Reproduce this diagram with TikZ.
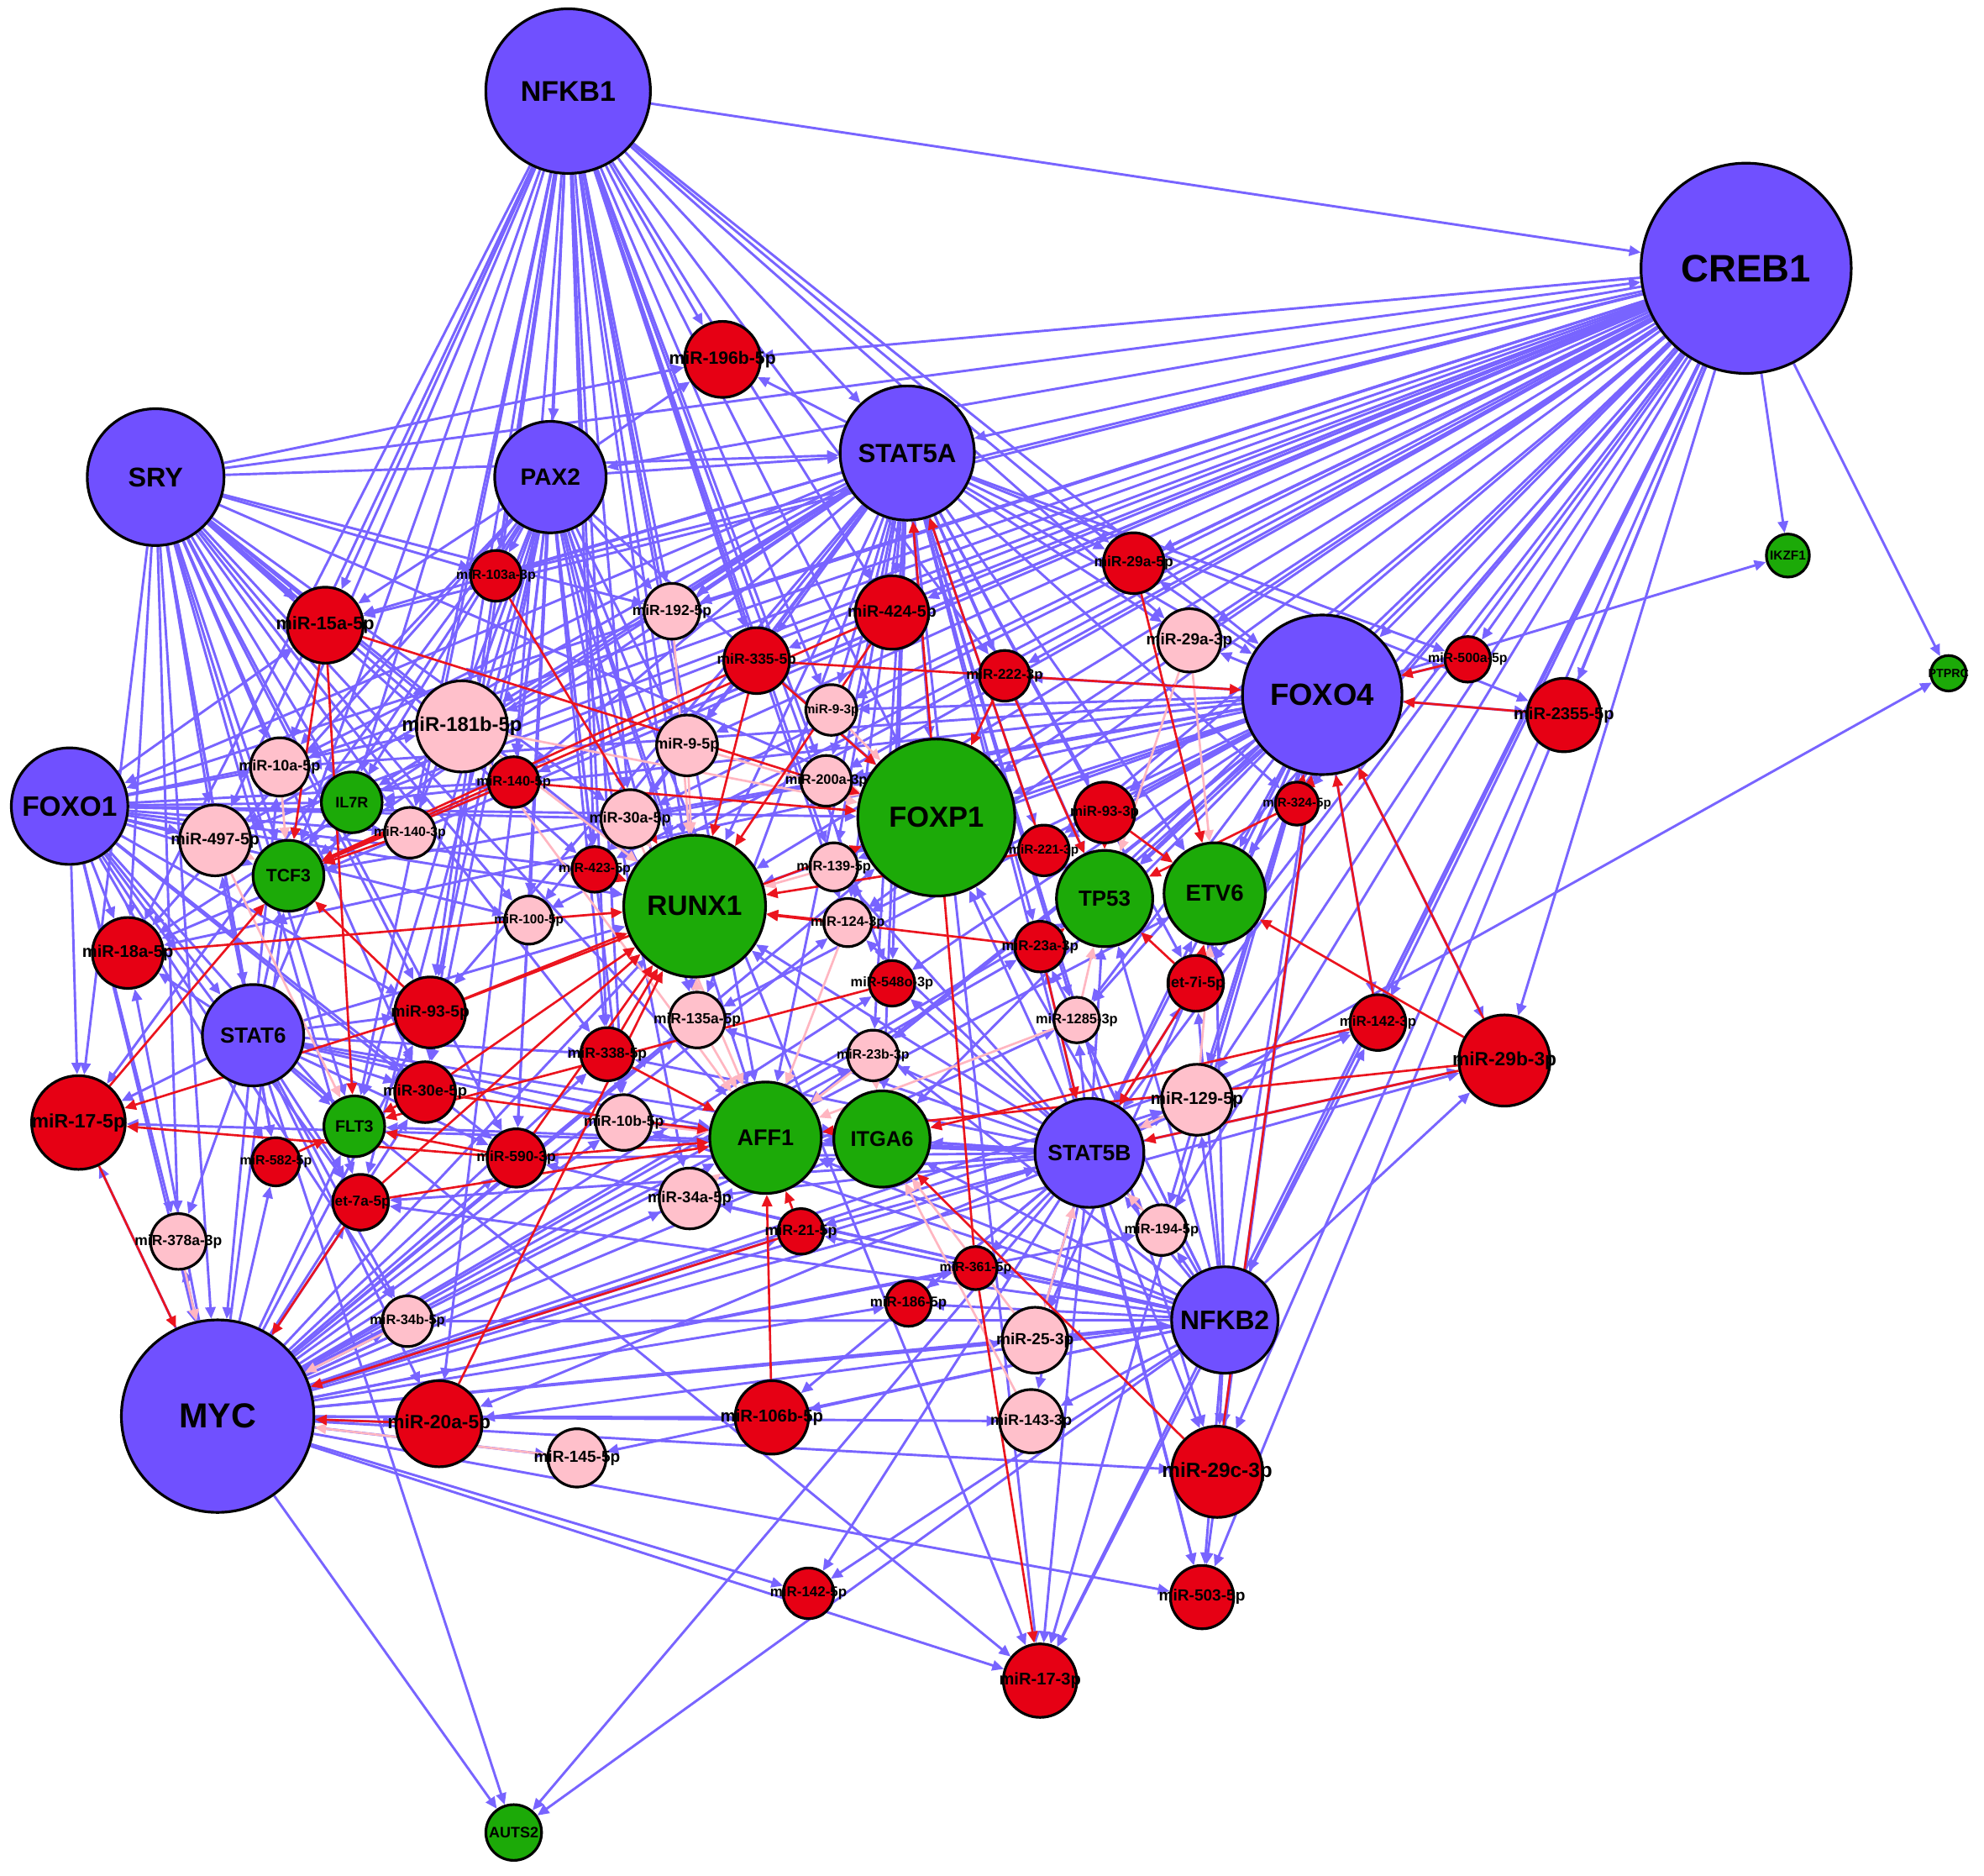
\documentclass[tikz,border=0pt]{standalone}
\usepackage{fontspec}
\setmainfont{Liberation Sans}
\usetikzlibrary{arrows.meta}
\pgfdeclarelayer{bg}
\pgfdeclarelayer{edges}
\pgfsetlayers{bg,edges,main}
\definecolor{tfb}{RGB}{112,80,255}
\definecolor{gn}{RGB}{28,170,8}
\definecolor{rd}{RGB}{230,0,20}
\definecolor{pk}{RGB}{255,192,203}
\definecolor{eb}{RGB}{120,100,255}
\definecolor{er}{RGB}{235,20,30}
\definecolor{ep}{RGB}{255,182,193}
\tikzset{
 nbase/.style={circle,draw=black,line width=0.6pt,inner sep=0pt},
 tf/.style={nbase,fill=tfb},
 gene/.style={nbase,fill=gn},
 up/.style={nbase,fill=rd},
 dn/.style={nbase,fill=pk},
 lab/.style={font=\bfseries\fontsize{#1}{#1}\selectfont,inner sep=0pt,text=black},
 be/.style={draw=eb,line width=0.55pt,-{Triangle[length=2.6pt,width=2.3pt]}},
 re/.style={draw=er,line width=0.5pt,-{Triangle[length=2.6pt,width=2.3pt]}},
 pe/.style={draw=ep,line width=0.5pt,-{Triangle[length=2.6pt,width=2.3pt]}}
}
\newcommand\nd[7]{\node[#5,minimum size=#4*0.02cm,label={[lab=#6]center:#7}] (#1) at (#2,-#3) {};}
\begin{document}
\begin{tikzpicture}[x=0.01cm,y=0.01cm]
\begin{pgfonlayer}{bg}
\fill[white] (0,0) rectangle (1568,-1482);
\end{pgfonlayer}
\useasboundingbox (0,0) rectangle (1568,-1482);
% transcription factors
\nd{NFKB1}{449}{72}{65}{tf}{6.4}{NFKB1}
\nd{CREB1}{1380}{212}{83}{tf}{8.6}{CREB1}
\nd{SRY}{123}{377}{54}{tf}{6.1}{SRY}
\nd{PAX2}{435}{377}{44}{tf}{5.3}{PAX2}
\nd{STAT5A}{717}{358}{53}{tf}{5.9}{STAT5A}
\nd{FOXO4}{1045}{549}{63}{tf}{6.9}{FOXO4}
\nd{FOXO1}{55}{637}{46}{tf}{6.3}{FOXO1}
\nd{STAT6}{200}{818}{40}{tf}{4.9}{STAT6}
\nd{STAT5B}{861}{911}{43}{tf}{5.0}{STAT5B}
\nd{NFKB2}{968}{1043}{42}{tf}{6.0}{NFKB2}
\nd{MYC}{172}{1119}{76}{tf}{7.8}{MYC}
% genes
\nd{FOXP1}{740}{646}{62}{gene}{6.5}{FOXP1}
\nd{RUNX1}{549}{716}{56}{gene}{6.3}{RUNX1}
\nd{TP53}{873}{710}{38}{gene}{4.9}{TP53}
\nd{ETV6}{960}{706}{40}{gene}{5.2}{ETV6}
\nd{AFF1}{605}{899}{44}{gene}{5.1}{AFF1}
\nd{ITGA6}{697}{900}{38}{gene}{4.8}{ITGA6}
\nd{TCF3}{228}{692}{28}{gene}{4.0}{TCF3}
\nd{IL7R}{278}{634}{24}{gene}{3.4}{IL7R}
\nd{FLT3}{280}{890}{24}{gene}{3.7}{FLT3}
\nd{IKZF1}{1413}{439}{17}{gene}{2.9}{IKZF1}
\nd{PTPRC}{1540}{532}{14}{gene}{2.7}{PTPRC}
\nd{AUTS2}{406}{1448}{22}{gene}{3.4}{AUTS2}
% up-regulated miRNAs
\nd{r196b}{571}{284}{30}{up}{4.0}{miR-196b-5p}
\nd{r103a}{392}{455}{20}{up}{3.0}{miR-103a-3p}
\nd{r15a}{257}{494}{30}{up}{4.1}{miR-15a-5p}
\nd{r424}{705}{484}{29}{up}{3.7}{miR-424-5p}
\nd{r335}{598}{522}{26}{up}{3.3}{miR-335-5p}
\nd{r29a5}{896}{445}{24}{up}{3.3}{miR-29a-5p}
\nd{r222}{794}{534}{20}{up}{3.2}{miR-222-3p}
\nd{r500a}{1160}{521}{18}{up}{3.0}{miR-500a-5p}
\nd{r2355}{1236}{565}{29}{up}{3.8}{miR-2355-5p}
\nd{r1405}{406}{618}{20}{up}{3.1}{miR-140-5p}
\nd{r933}{873}{642}{24}{up}{3.2}{miR-93-3p}
\nd{r221}{825}{672}{20}{up}{2.9}{miR-221-3p}
\nd{r324}{1025}{635}{17}{up}{2.85}{miR-324-5p}
\nd{r423}{470}{687}{18}{up}{3.0}{miR-423-5p}
\nd{r18a}{101}{753}{28}{up}{3.8}{miR-18a-5p}
\nd{r23a}{822}{748}{20}{up}{3.2}{miR-23a-3p}
\nd{r548o}{705}{777}{18}{up}{3.1}{miR-548o-3p}
\nd{let7i}{945}{777}{22}{up}{3.4}{let-7i-5p}
\nd{r935}{340}{800}{28}{up}{3.65}{miR-93-5p}
\nd{r1423}{1089}{808}{22}{up}{3.2}{miR-142-3p}
\nd{r29b}{1189}{838}{36}{up}{4.3}{miR-29b-3p}
\nd{r338}{480}{833}{21}{up}{3.3}{miR-338-5p}
\nd{r30e}{336}{863}{24}{up}{3.5}{miR-30e-5p}
\nd{r175}{62}{887}{37}{up}{4.35}{miR-17-5p}
\nd{r590}{408}{915}{23}{up}{3.3}{miR-590-3p}
\nd{r582}{218}{918}{19}{up}{3.0}{miR-582-5p}
\nd{let7a}{285}{950}{22}{up}{3.25}{let-7a-5p}
\nd{r21}{633}{973}{18}{up}{3.35}{miR-21-5p}
\nd{r361}{771}{1002}{17}{up}{3.0}{miR-361-5p}
\nd{r186}{718}{1030}{18}{up}{3.2}{miR-186-5p}
\nd{r20a}{347}{1125}{34}{up}{4.3}{miR-20a-5p}
\nd{r106b}{610}{1120}{29}{up}{3.85}{miR-106b-5p}
\nd{r29c}{962}{1163}{36}{up}{4.6}{miR-29c-3p}
\nd{r1425}{639}{1259}{20}{up}{3.2}{miR-142-5p}
\nd{r503}{950}{1262}{25}{up}{3.6}{miR-503-5p}
\nd{r173}{822}{1328}{29}{up}{3.8}{miR-17-3p}
% down-regulated miRNAs
\nd{p192}{531}{483}{22}{dn}{3.3}{miR-192-5p}
\nd{p29a3}{940}{506}{25}{dn}{3.6}{miR-29a-3p}
\nd{p181b}{365}{574}{36}{dn}{4.5}{miR-181b-5p}
\nd{p93}{657}{561}{20}{dn}{2.9}{miR-9-3p}
\nd{p10a}{221}{606}{23}{dn}{3.4}{miR-10a-5p}
\nd{p95}{543}{589}{24}{dn}{3.4}{miR-9-5p}
\nd{p200a}{653}{617}{20}{dn}{3.1}{miR-200a-3p}
\nd{p497}{170}{664}{28}{dn}{3.7}{miR-497-5p}
\nd{p1403}{324}{658}{20}{dn}{3.0}{miR-140-3p}
\nd{p30a}{498}{647}{23}{dn}{3.4}{miR-30a-5p}
\nd{p139}{659}{685}{19}{dn}{3.1}{miR-139-5p}
\nd{p100}{418}{727}{19}{dn}{2.9}{miR-100-5p}
\nd{p124}{670}{729}{19}{dn}{3.1}{miR-124-3p}
\nd{p135a}{551}{806}{22}{dn}{3.3}{miR-135a-5p}
\nd{p1285}{851}{806}{18}{dn}{3.1}{miR-1285-3p}
\nd{p23b}{690}{834}{20}{dn}{3.0}{miR-23b-3p}
\nd{p129}{946}{869}{28}{dn}{3.86}{miR-129-5p}
\nd{p10b}{493}{887}{22}{dn}{3.3}{miR-10b-5p}
\nd{p34a}{545}{947}{24}{dn}{3.5}{miR-34a-5p}
\nd{p378a}{141}{981}{22}{dn}{3.3}{miR-378a-3p}
\nd{p194}{918}{972}{20}{dn}{3.1}{miR-194-5p}
\nd{p34b}{322}{1044}{20}{dn}{3.1}{miR-34b-5p}
\nd{p25}{818}{1059}{26}{dn}{3.6}{miR-25-3p}
\nd{p143}{815}{1123}{25}{dn}{3.4}{miR-143-3p}
\nd{p145}{456}{1152}{23}{dn}{3.6}{miR-145-5p}

\begin{pgfonlayer}{edges}
% TF regulation (blue)
\foreach \t in {CREB1,STAT5A,r196b,PAX2,r15a,r103a,p192,p181b,r1405,IL7R,TCF3,p10a,p1403,p30a,RUNX1,p95,r335,r424,p93,p200a,FOXP1,r338,p10b,AFF1,p135a,r935,r30e,FLT3,FOXO4,r29a5,r222,p139,r423,p100,r18a,p497,r590,p124,r548o,p29a3}
  \draw[be] (NFKB1) -- (\t);
\foreach \t in {STAT5A,CREB1,r196b,r15a,p10a,p497,TCF3,IL7R,p1403,p181b,r1405,RUNX1,r18a,r175,STAT6,FLT3,r935,p378a,r582,let7a,FOXP1,AFF1,p100,r423,r30e,MYC,p30a,r103a,p192,r338,r590}
  \draw[be] (SRY) -- (\t);
\foreach \t in {r196b,r15a,r103a,p181b,r1405,IL7R,TCF3,p30a,RUNX1,r935,r338,p10b,AFF1,r590,FLT3,r30e,p135a,r175,r18a,FOXP1,p34a,p192,p95,r423,p100,p10a,p1403,STAT5A,r173,let7a,r20a}
  \draw[be] (PAX2) -- (\t);
\foreach \t in {r196b,r424,r335,p192,p93,p95,FOXP1,RUNX1,p200a,p139,p124,r29a5,p29a3,FOXO4,TP53,ETV6,r222,r221,r933,r15a,r103a,p181b,p10a,TCF3,IL7R,p497,r18a,AFF1,ITGA6,r548o,p23b,p135a,r2355,r500a,r1405,p30a,r423,p100,r23a,p1285,r935,FOXO1,r324,let7i,r173,r503,r29c}
  \draw[be] (STAT5A) -- (\t);
\foreach \t in {r196b,STAT5A,r29a5,p29a3,FOXO4,r500a,r2355,IKZF1,PTPRC,r29b,r1423,NFKB2,r29c,r324,ETV6,TP53,r933,let7i,r222,r424,r335,r15a,FOXP1,RUNX1,p181b,p129,STAT5B,p1285,r221,r23a,TCF3,IL7R,p10a,p93,p95,p192,PAX2,p200a,p139,p124,r1405,p30a,p497,r18a,p194,r173,r503,FOXO1,r103a,p100,r423}
  \draw[be] (CREB1) -- (\t);
\foreach \t in {p29a3,r29a5,r2355,r324,ETV6,TP53,r933,FOXP1,RUNX1,r221,r222,r23a,let7i,p1285,STAT5B,p129,r1423,r29b,IKZF1,p139,p124,p30a,TCF3,IL7R,p10a,r18a,AFF1,ITGA6,p194,r500a,p200a,r548o,p23b,p135a,r29c,r503,p93,r173,p25}
  \draw[be] (FOXO4) -- (\t);
\foreach \t in {IL7R,TCF3,p10a,p497,r18a,r175,STAT6,p378a,MYC,FLT3,r935,RUNX1,p1403,p100,p181b,r15a,FOXP1,p30a,r423,r582,r1405,let7a,r30e,p34b,r590}
  \draw[be] (FOXO1) -- (\t);
\foreach \t in {r175,r18a,FLT3,TCF3,p378a,r582,let7a,MYC,r935,RUNX1,AFF1,r30e,p34b,r590,r20a,p497,p10a,p10b,r338,AUTS2,ITGA6,IL7R,r173}
  \draw[be] (STAT6) -- (\t);
\foreach \t in {AFF1,ITGA6,RUNX1,FOXP1,TP53,ETV6,p129,p194,p25,p143,r29c,r503,r173,r106b,p1285,let7i,r23a,r361,r186,r21,p34a,p10b,p23b,r548o,p135a,r590,FLT3,r20a,r1423,r29b,PTPRC,AUTS2,r1425,p124,p139,r338,let7a,r175}
  \draw[be] (STAT5B) -- (\t);
\foreach \t in {r29c,r503,r173,r29b,r1423,let7i,p194,p129,p25,p143,r106b,ITGA6,AFF1,r361,r186,r21,p34a,p10b,p145,r20a,FOXO4,ETV6,TP53,p1285,r1425,RUNX1,FOXP1,r23a,AUTS2,r590,p34b,let7a,STAT5B}
  \draw[be] (NFKB2) -- (\t);
\foreach \t in {AUTS2,r1425,r173,r20a,p145,r106b,r29c,p143,p25,NFKB2,r186,r361,r21,p34a,AFF1,ITGA6,STAT5B,p194,p129,r29b,let7a,p34b,p378a,r175,FLT3,r590,p10b,r30e,r935,RUNX1,FOXP1,r338,p135a,TCF3,r18a,r582,r23a,TP53,ETV6,r1423,p1285,p23b,r548o,p124,r503}
  \draw[be] (MYC) -- (\t);
% down-regulated miRNA targeting (pink)
\foreach \s/\t in {p181b/FOXP1,p181b/RUNX1,p29a3/ETV6,p29a3/TP53,p95/RUNX1,p95/FOXP1,p192/RUNX1,p497/TCF3,p497/FLT3,p10a/TCF3,p30a/RUNX1,p139/RUNX1,p200a/FOXP1,p93/FOXP1,p135a/RUNX1,p135a/AFF1,p23b/AFF1,p23b/ITGA6,p10b/AFF1,p34a/AFF1,p1285/TP53,p129/ETV6,p129/STAT5B,p194/STAT5B,p25/ITGA6,p25/STAT5B,p143/ITGA6,p145/MYC,p378a/MYC,p34b/MYC,p100/RUNX1,p181b/AFF1,p30a/AFF1,p1285/AFF1,p124/AFF1}
  \draw[pe] (\s) -- (\t);
% up-regulated miRNA targeting (red)
\foreach \s/\t in {r15a/TCF3,r15a/FLT3,r15a/FOXP1,r103a/RUNX1,r424/RUNX1,r424/TCF3,r335/FOXO4,r335/RUNX1,r335/FOXP1,r335/TCF3,r29a5/ETV6,r222/FOXP1,r222/TP53,r221/STAT5A,r221/TP53,r221/RUNX1,r933/TP53,r933/ETV6,r500a/FOXO4,r2355/FOXO4,r324/FOXO4,r324/TP53,r1423/FOXO4,r1423/ITGA6,r29b/FOXO4,r29b/ETV6,r29b/AFF1,r29b/STAT5B,let7i/TP53,let7i/ETV6,let7i/STAT5B,r23a/RUNX1,r23a/STAT5B,r23a/TP53,r548o/FLT3,r18a/RUNX1,r935/RUNX1,r935/FOXP1,r935/TCF3,r935/r175,r30e/FLT3,r30e/RUNX1,r30e/AFF1,r338/AFF1,r338/RUNX1,r590/AFF1,r590/RUNX1,r590/FLT3,r590/r175,r582/FLT3,let7a/MYC,let7a/RUNX1,let7a/AFF1,r175/MYC,r175/TCF3,r21/MYC,r21/AFF1,r106b/AFF1,r361/STAT5A,r361/r173,r29c/ITGA6,r29c/FOXO4,r20a/RUNX1,r20a/MYC,r1405/TCF3,r1405/FOXP1,r423/RUNX1,p124/RUNX1,p1403/TCF3}
  \draw[re] (\s) -- (\t);
\end{pgfonlayer}
\end{tikzpicture}
\end{document}
